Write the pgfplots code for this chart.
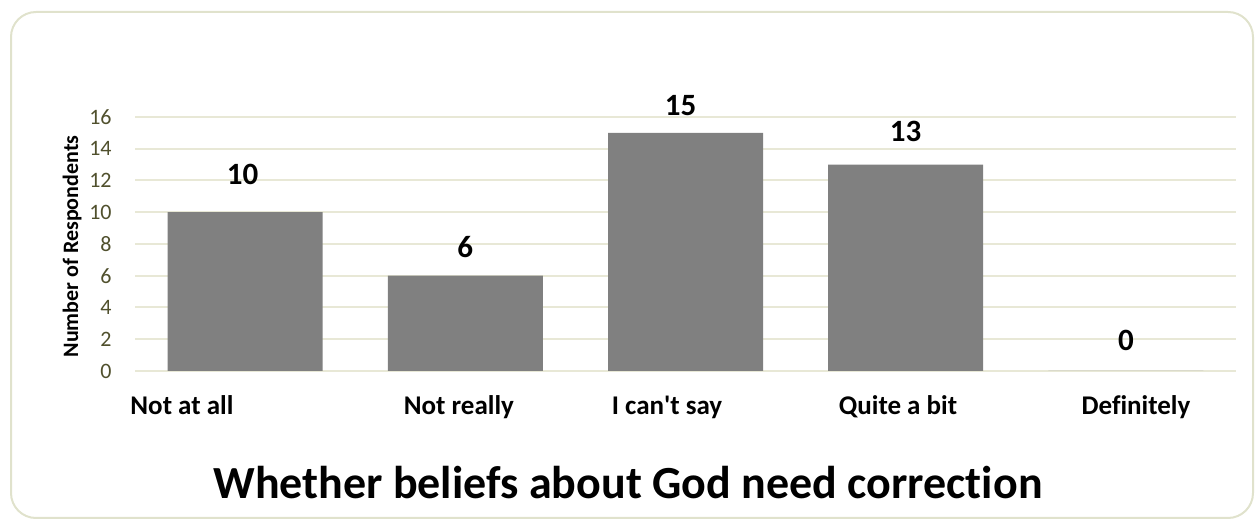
\documentclass[border=0pt]{standalone}
\usepackage{pgfplots}
\pgfplotsset{compat=1.18}
\usepackage{pgfplotstable}
\usepackage{fontspec}
\setmainfont[Ligatures={TeX,NoCommon}]{Carlito}
\definecolor{bordercol}{RGB}{224,226,204}
\definecolor{gridcol}{RGB}{232,232,214}
\definecolor{tickcol}{RGB}{80,80,45}
\definecolor{barcol}{RGB}{128,128,128}

\pgfplotstableread{
x y dx dy
0 10 -1.25 13.8
1 6 0 9
2 15 -2.5 8.8
3 13 0 11.8
4 0 0 10.1
}\datatable

\begin{document}
\begin{tikzpicture}
\path (0,0) rectangle (628bp,261.5bp);
\draw[bordercol, line width=1bp, rounded corners=12.5bp] (5.5bp,2.5bp) rectangle (626.5bp,255.5bp);
\begin{axis}[
  at={(67.5bp,76bp)}, anchor=south west,
  scale only axis, width=550.5bp, height=127bp,
  xmin=-0.5, xmax=4.5, ymin=0, ymax=16,
  ytick={0,2,...,16},
  xtick={-0.287,0.971,1.916,2.965,4.046},
  xticklabels={Not at all, Not really, I can\textquotesingle t say, Quite a bit, Definitely},
  major tick length=0pt,
  axis line style={draw=none},
  ymajorgrids, grid style={gridcol, line width=1bp},
  /pgf/number format/assume math mode=true,
  yticklabel style={font=\fontsize{11bp}{13bp}\selectfont, text=tickcol, anchor=east, inner sep=0pt, xshift=-11.5bp},
  xticklabel style={font=\bfseries\fontsize{13.5bp}{16bp}\selectfont, anchor=base, inner sep=0pt, yshift=-22bp},
  ylabel={Number of Respondents},
  ylabel style={at={(axis description cs:-0.057,0.49)}, anchor=center, font=\bfseries\fontsize{11bp}{13bp}\selectfont},
]
\addplot[ybar, bar width=77.5bp, fill=barcol, draw=none,
  visualization depends on={\thisrow{dx} \as \dx},
  visualization depends on={\thisrow{dy} \as \dy},
  nodes near coords,
  nodes near coords style={anchor=base, inner sep=0pt, xshift=\dx bp, yshift=\dy bp, font=\bfseries\fontsize{15.5bp}{18bp}\selectfont, text=black},
] table[x=x,y=y] {\datatable};
\end{axis}
\node[font=\bfseries\fontsize{23bp}{27bp}\selectfont, anchor=base] at (314bp,12.5bp) {Whether beliefs about God need correction};
\end{tikzpicture}
\end{document}
